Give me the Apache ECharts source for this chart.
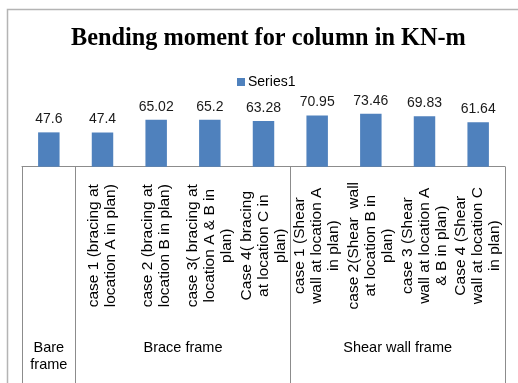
<!DOCTYPE html>
<html><head><meta charset="utf-8">
<script src="https://cdn.jsdelivr.net/npm/echarts@6/dist/echarts.min.js"></script>
<style>html,body{margin:0;padding:0;background:#fff}#c{width:518px;height:383px}</style>
</head><body><div id="c"></div>
<script>
const titleText = 'Bending moment for column in KN-m';
const seriesName = 'Series1';
const categories = [
  '',
  'case 1 (bracing at\nlocation A in plan)',
  'case 2 (bracing at\nlocation B in plan)',
  'case 3( bracing at\nlocation A & B in\nplan)',
  'Case 4( bracing\nat location C in\nplan)',
  'case 1 (Shear\nwall at location A\nin plan)',
  'case 2(Shear  wall\nat location B in\nplan)',
  'case 3 (Shear\nwall at location A\n& B in plan)',
  'Case 4 (Shear\nwall at location C\nin plan)'
];
const values = [47.6, 47.4, 65.02, 65.2, 63.28, 70.95, 73.46, 69.83, 61.64];
const groupNames = ['Bare\nframe', 'Brace frame', 'Shear wall frame'];
const groupCenters = [0.5, 3, 7];
const groupBounds = [0, 1, 5, 9];

const chart = echarts.init(document.getElementById('c'), null, {renderer: 'canvas'});
const font = 'Liberation Sans, Arial, sans-serif';
chart.setOption({
  animation: false,
  backgroundColor: '#fff',
  title: {
    text: titleText, left: 66, top: 22,
    textStyle: {fontFamily: 'Liberation Serif, Times New Roman, serif', fontWeight: 'bold', fontSize: 24.3, color: '#000'}
  },
  legend: {
    data: [seriesName], left: 232, top: 70, icon: 'rect', itemWidth: 8, itemHeight: 8, itemGap: 4,
    textStyle: {fontFamily: font, fontSize: 14, color: '#000', padding: [0, 0, 0, -2]}
  },
  graphic: [{
    type: 'rect', shape: {x: 7.5, y: 9.5, width: 600, height: 500},
    style: {fill: 'none', stroke: '#b4b4b4', lineWidth: 1.5}, silent: true
  }],
  grid: {left: 22, right: 13, top: 109, bottom: 216.3, containLabel: false},
  xAxis: [{
    type: 'category', data: categories, boundaryGap: true,
    axisLine: {show: true, lineStyle: {color: '#8c8c8c', width: 1}},
    axisTick: {show: false},
    axisLabel: {
      rotate: 90, margin: 79, interval: 0, align: 'center', verticalAlign: 'middle',
      fontFamily: font, fontSize: 15.5, lineHeight: 17, color: '#000'
    }
  }, {
    type: 'value', min: 0, max: 9, position: 'bottom', gridIndex: 0,
    axisLine: {show: false}, splitLine: {show: false},
    axisTick: {show: true, customValues: groupBounds, length: 230, lineStyle: {color: '#8c8c8c', width: 1}},
    axisLabel: {
      show: true, customValues: groupCenters, margin: 173, verticalAlign: 'top',
      fontFamily: font, fontSize: 14.5, color: '#000', lineHeight: 17,
      formatter: function (v) { return groupNames[groupCenters.indexOf(v)]; }
    }
  }],
  yAxis: {type: 'value', min: 0, max: 80, show: false, splitLine: {show: false}},
  series: [{
    name: seriesName, type: 'bar', data: values, xAxisIndex: 0, barWidth: '40%',
    itemStyle: {color: '#4f81bd'},
    label: {show: true, position: 'top', distance: 6, fontFamily: font, fontSize: 14, color: '#1a1a1a'}
  }]
});
</script></body></html>
